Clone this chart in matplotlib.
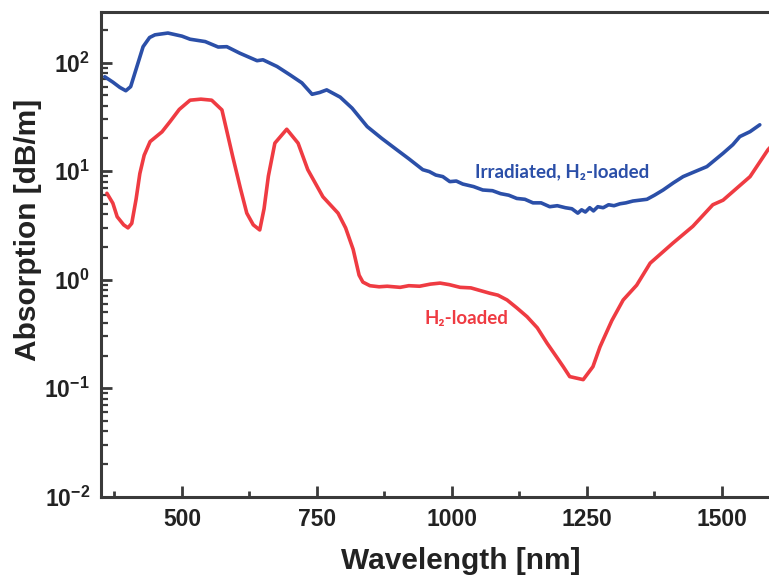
import matplotlib
matplotlib.use("Agg")
import matplotlib.pyplot as plt
from matplotlib.ticker import LogLocator, FixedLocator, NullFormatter, FuncFormatter
import numpy as np

# --- data ---
blue_wl = [357, 372, 385, 396, 405, 416, 428, 440, 450, 474, 500, 515, 543, 567, 583,
           607, 639, 650, 676, 700, 722, 741, 755, 768, 793, 815, 843, 870, 898, 920,
           946, 958, 970, 983, 996, 1008, 1020, 1040, 1057, 1075, 1090, 1105, 1120, 1135,
           1150, 1165, 1181, 1195, 1210, 1222, 1233, 1240, 1247, 1255, 1262, 1270, 1280,
           1290, 1300, 1311, 1322, 1335, 1348, 1361, 1375, 1391, 1410, 1428, 1450, 1472,
           1502, 1520, 1533, 1552, 1570]
blue_abs = [74, 66, 59, 55, 60, 90, 140, 170, 180, 187, 175, 164, 156, 139, 140,
            122, 104, 106, 92, 77, 65, 51, 53, 56, 48, 38, 25.7, 20, 15.7, 13,
            10.3, 9.9, 9.2, 8.9, 8.0, 8.1, 7.6, 7.2, 6.7, 6.6, 6.2, 6.0, 5.6, 5.5,
            5.1, 5.1, 4.7, 4.8, 4.6, 4.5, 4.1, 4.4, 4.2, 4.6, 4.3, 4.7, 4.6,
            4.9, 4.8, 5.0, 5.1, 5.3, 5.4, 5.5, 6.0, 6.7, 7.8, 8.9, 9.9, 11.0,
            14.6, 17.5, 20.8, 23.1, 26.7]

red_wl = [361, 372, 380, 392, 400, 407, 415, 422, 430, 441, 463, 478, 495, 515, 535,
          555, 574, 594, 608, 620, 632, 644, 652, 660, 672, 694, 715, 733, 761, 789,
          803, 817, 828, 835, 848, 865, 880, 904, 920, 940, 960, 978, 995, 1015, 1035,
          1050, 1070, 1085, 1102, 1120, 1139, 1158, 1176, 1195, 1206, 1218, 1243, 1261,
          1274, 1280, 1296, 1317, 1342, 1367, 1409, 1446, 1483, 1502, 1552, 1585, 1600]
red_abs = [6.25, 5.06, 3.8, 3.2, 3.0, 3.3, 5.5, 9.5, 14, 18.7, 23, 28.6, 37, 45, 46,
           45, 36.6, 13.6, 7, 4.1, 3.2, 2.87, 4.5, 9, 18.1, 24.3, 18.1, 10.3, 5.8, 4.1,
           3.0, 1.9, 1.1, 0.95, 0.88, 0.86, 0.87, 0.85, 0.88, 0.87, 0.91, 0.93, 0.90, 0.85, 0.84,
           0.80, 0.75, 0.72, 0.65, 0.55, 0.456, 0.36, 0.26, 0.19, 0.158, 0.128, 0.12, 0.158,
           0.24, 0.28, 0.42, 0.65, 0.89, 1.42, 2.17, 3.1, 4.9, 5.4, 8.9, 15.7, 19]

x_major = [500, 750, 1000, 1250, 1500]
x_minor = [375, 625, 875, 1125, 1375]
label_blue = "Irradiated, H\u2082-loaded"
label_red = "H\u2082-loaded"

BLUE = "#2b4fa8"
RED = "#ef3b42"
SPINE = "#3a3a3a"

plt.rcParams['font.family'] = ['Liberation Sans', 'DejaVu Sans']
plt.rcParams['mathtext.fontset'] = 'custom'
plt.rcParams['mathtext.rm'] = 'Liberation Sans:bold'
plt.rcParams['mathtext.bf'] = 'Liberation Sans:bold'
plt.rcParams['mathtext.it'] = 'Liberation Sans:bold'

fig = plt.figure(figsize=(7.69, 5.77), dpi=100)
ax = fig.add_axes([0.1313, 0.139, 0.8778, 0.841])

ax.plot(blue_wl, blue_abs, color=BLUE, lw=2.6, solid_capstyle='round', solid_joinstyle='round')
ax.plot(red_wl, red_abs, color=RED, lw=2.6, solid_capstyle='round', solid_joinstyle='round')

ax.set_yscale('log')
ax.set_xlim(350, 1600)
ax.set_ylim(0.01, 295)

ax.xaxis.set_major_locator(FixedLocator(x_major))
ax.xaxis.set_minor_locator(FixedLocator(x_minor))
ax.yaxis.set_major_locator(LogLocator(base=10, numticks=10))
ax.yaxis.set_minor_locator(LogLocator(base=10, subs=np.arange(2, 10), numticks=20))
ax.yaxis.set_minor_formatter(NullFormatter())

def yfmt(v, pos):
    e = int(round(np.log10(v)))
    return r'$\mathbf{10^{%d}}$' % e
ax.yaxis.set_major_formatter(FuncFormatter(yfmt))

for lbl in ax.get_xticklabels():
    lbl.set_fontweight('bold')

ax.tick_params(axis='both', which='both', direction='in', colors=SPINE,
               labelcolor='#222222')
ax.tick_params(axis='x', which='major', length=8, width=2, labelsize=16.5, pad=8)
ax.tick_params(axis='x', which='minor', length=4, width=2)
ax.tick_params(axis='y', which='major', length=8, width=2, labelsize=16.5, pad=8)
ax.tick_params(axis='y', which='minor', length=5, width=1.6)
ax.tick_params(top=False, right=False, which='both')

for s in ['left', 'bottom', 'top', 'right']:
    ax.spines[s].set_linewidth(2.2)
    ax.spines[s].set_color(SPINE)

ax.set_xlabel("Wavelength [nm]", fontsize=21.5, fontweight='bold', color='#222222')
ax.set_ylabel("Absorption [dB/m]", fontsize=21.5, fontweight='bold', color='#222222')
ax.xaxis.set_label_coords(0.533, -0.103)
ax.yaxis.set_label_coords(-0.088, 0.549)

tfont = dict(family=['Lato', 'DejaVu Sans'], fontweight='bold', fontsize=13.5)
ax.text(1204, 9.8, label_blue, color=BLUE, ha='center', va='center', **tfont)
ax.text(1026, 0.44, label_red, color=RED, ha='center', va='center', **tfont)

fig.savefig("out.png", dpi=100)
